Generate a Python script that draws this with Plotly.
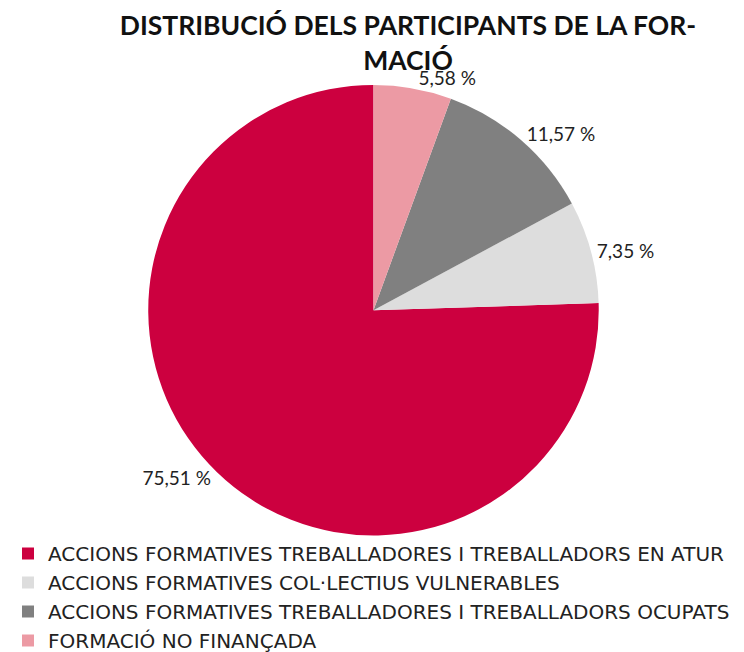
import plotly.graph_objects as go

labels = [
    "ACCIONS FORMATIVES TREBALLADORES I TREBALLADORS EN ATUR",
    "ACCIONS FORMATIVES COL·LECTIUS VULNERABLES",
    "ACCIONS FORMATIVES TREBALLADORES I TREBALLADORS OCUPATS",
    "FORMACIÓ NO FINANÇADA",
]
values = [75.51, 7.35, 11.57, 5.58]
text_labels = ["75,51 %", "7,35 %", "11,57 %", "5,58 %"]
colors = ["#CC003F", "#DDDDDD", "#808080", "#EC9AA4"]

# start angle so that the first (largest) slice ends at 12 o'clock, others follow clockwise from the top
start_rotation = 360 * (1 - values[0] / sum(values))

fig = go.Figure(go.Pie(
    labels=labels,
    values=values,
    text=text_labels,
    texttemplate="%{text}",
    textposition="outside",
    textfont=dict(family="Lato", size=19, color="#222222"),
    marker=dict(colors=colors, line=dict(width=0)),
    sort=False,
    direction="counterclockwise",
    rotation=start_rotation,
    domain=dict(x=[0.1885, 0.7940], y=[0.1910, 0.8820]),
    showlegend=True,
    hoverinfo="label+percent",
))

fig.update_layout(
    width=744,
    height=652,
    margin=dict(l=0, r=0, t=0, b=0),
    paper_bgcolor="white",
    plot_bgcolor="white",
    title=dict(
        text="<b>DISTRIBUCIÓ DELS PARTICIPANTS DE LA FOR-<br>MACIÓ</b>",
        x=0.5376, xanchor="center",
        y=0.958, yref="container", yanchor="top",
        font=dict(family="Lato", size=26.5, color="#111111"),
    ),
    legend=dict(
        orientation="v",
        x=0.0, xanchor="left",
        y=0.0, yanchor="bottom",
        font=dict(family="DejaVu Sans", size=20, color="#222222"),
        bgcolor="rgba(0,0,0,0)",
        itemwidth=30,
    ),
)

fig.write_html("out.html")
